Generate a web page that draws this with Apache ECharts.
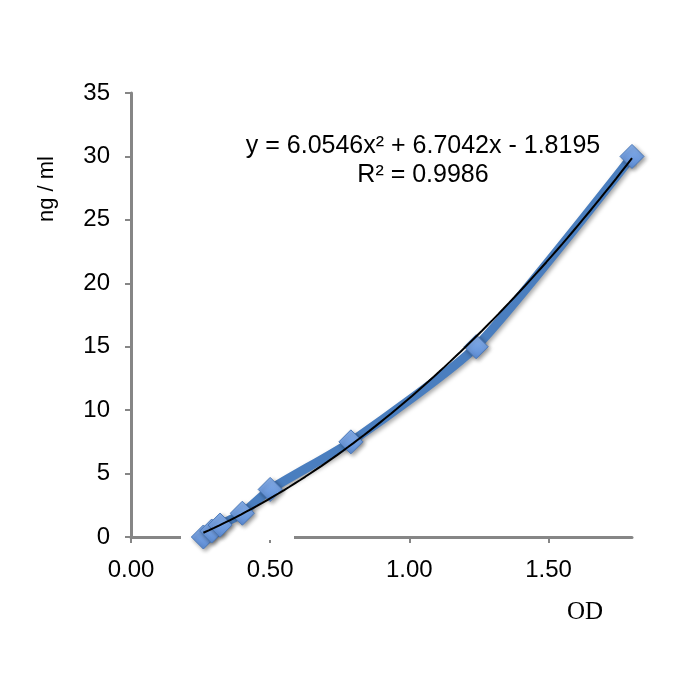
<!DOCTYPE html>
<html>
<head>
<meta charset="utf-8">
<script src="https://cdn.jsdelivr.net/npm/echarts@6/dist/echarts.min.js"></script>
<style>html,body{margin:0;padding:0;background:#fff;}#c{width:700px;height:700px;}</style>
</head>
<body>
<div id="c"></div>
<script>
// Data
var odValues = [0.26, 0.29, 0.32, 0.40, 0.50, 0.79, 1.24, 1.80];
var concValues = [0, 0.47, 0.94, 1.875, 3.75, 7.5, 15, 30];
var trendCoef = [6.0546, 6.7042, -1.8195]; // a, b, c of y = a x^2 + b x + c
var xTicks = [0, 0.5, 1.0, 1.5];
var yTicks = [0, 5, 10, 15, 20, 25, 30, 35];
var eqLine1 = 'y = 6.0546x\u00B2 + 6.7042x - 1.8195';
var eqLine2 = 'R\u00B2 = 0.9986';

var pts = odValues.map(function (x, i) { return [x, concValues[i]]; });
var trend = [];
var x0 = odValues[0], x1 = odValues[odValues.length - 1];
for (var k = 0; k <= 80; k++) {
  var x = x0 + (x1 - x0) * k / 80;
  trend.push([x, trendCoef[0] * x * x + trendCoef[1] * x + trendCoef[2]]);
}

var chart = echarts.init(document.getElementById('c'), null, { renderer: 'canvas' });
var axisColor = '#868686';
var font = 'Liberation Sans, Arial, sans-serif';
chart.setOption({
  animation: false,
  grid: { left: 131, right: 68, top: 93, bottom: 163, containLabel: false },
  xAxis: {
    type: 'value', min: 0, max: 1.8, interval: 0.5,
    axisLine: { onZero: false, lineStyle: { color: axisColor, width: 3 } },
    axisTick: { show: true, length: 6, lineStyle: { color: axisColor, width: 2 }, customValues: xTicks },
    axisLabel: { color: '#000', fontSize: 24, fontFamily: font, margin: 21, customValues: xTicks,
      formatter: function (v) { return v.toFixed(2); } },
    splitLine: { show: false }
  },
  yAxis: {
    type: 'value', min: 0, max: 35, interval: 5,
    axisLine: { show: true, lineStyle: { color: axisColor, width: 3 } },
    axisTick: { show: true, length: 6, lineStyle: { color: axisColor, width: 2 } },
    axisLabel: { color: '#000', fontSize: 24, fontFamily: font, margin: 21 },
    splitLine: { show: false }
  },
  graphic: [
    { type: 'rect', shape: { x: 181, y: 534, width: 113, height: 6 }, style: { fill: '#fff' }, z: 1, silent: true },
    { type: 'text', x: 47, y: 189, rotation: Math.PI / 2,
      style: { text: 'ng / ml', font: '22px ' + font, fill: '#000', align: 'center', verticalAlign: 'middle' }, z: 10 },
    { type: 'text', style: { text: 'OD', x: 585, y: 612, font: '25px "Liberation Serif", "Times New Roman", serif', fill: '#000',
        align: 'center', verticalAlign: 'middle' }, z: 10 },
    { type: 'text', style: { text: eqLine1, x: 423, y: 146, font: '25px ' + font, fill: '#000',
        align: 'center', verticalAlign: 'middle' }, z: 10 },
    { type: 'text', style: { text: eqLine2, x: 423, y: 175, font: '25px ' + font, fill: '#000',
        align: 'center', verticalAlign: 'middle' }, z: 10 }
  ],
  series: [
    {
      type: 'line', data: pts, smooth: 0.2, z: 3,
      lineStyle: { color: '#4a7ebf', width: 9, shadowColor: 'rgba(0,0,0,0.35)', shadowBlur: 4, shadowOffsetX: 2, shadowOffsetY: 2 },
      symbol: 'diamond', symbolSize: 24,
      itemStyle: {
        color: new echarts.graphic.LinearGradient(0, 0, 0, 1, [
          { offset: 0, color: '#8ab2ec' }, { offset: 1, color: '#5c8cd5' }
        ]),
        borderColor: '#4a78b8', borderWidth: 1,
        shadowColor: 'rgba(0,0,0,0.4)', shadowBlur: 4, shadowOffsetX: 2, shadowOffsetY: 2
      }
    },
    {
      type: 'line', data: trend, smooth: false, z: 5, showSymbol: false, symbol: 'none',
      lineStyle: { color: '#000', width: 2 }
    }
  ]
});
</script>
</body>
</html>
